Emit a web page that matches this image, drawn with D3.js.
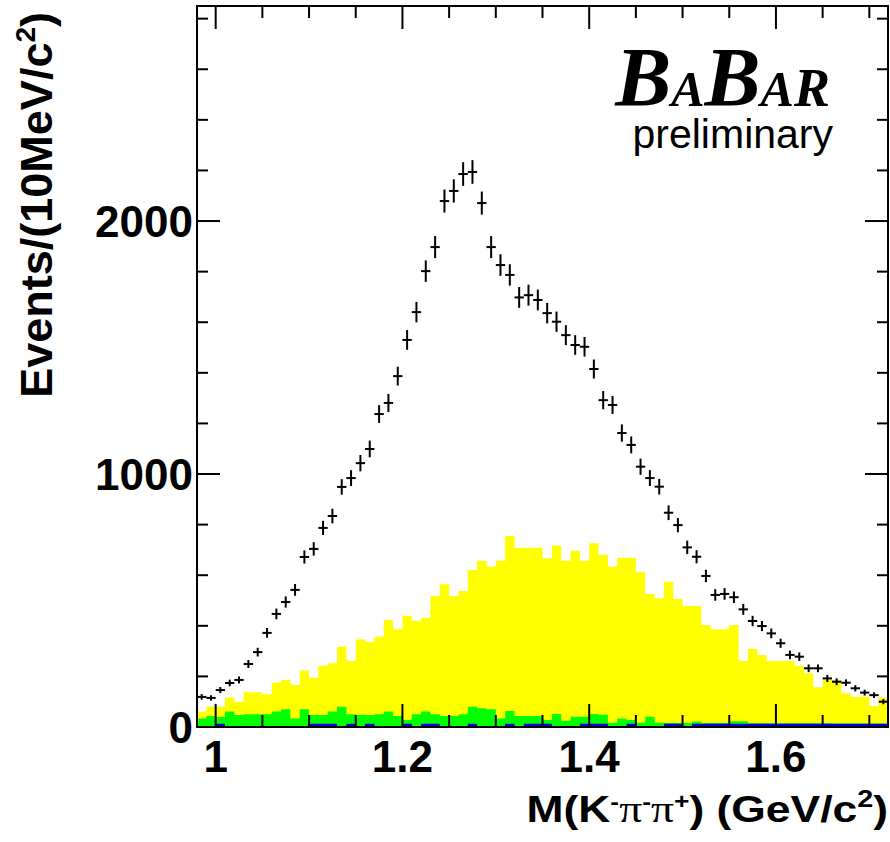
<!DOCTYPE html>
<html>
<head>
<meta charset="utf-8">
<title>BaBar K pi pi mass</title>
<script src="https://cdn.jsdelivr.net/npm/d3@7"></script>
<style>
  body { margin: 0; background: #fff; }
</style>
</head>
<body>
<script>
// binning: 10 MeV bins from 0.98 to 1.72 GeV
var binLow = 0.98, binWidth = 0.01;

// data points (events per bin)
var dataCounts = [119,115,146,174,186,249,296,372,447,494,
  542,672,704,787,834,949,984,1043,1099,1237,
  1281,1387,1530,1640,1802,1897,2079,2119,2186,2194,
  2071,1897,1826,1787,1698,1707,1688,1636,1602,1549,
  1510,1503,1415,1292,1273,1162,1115,1029,984,950,
  847,798,710,673,597,522,526,513,465,419,
  399,370,331,285,278,232,232,192,179,175,
  153,136,126,100];

// yellow background component
var yellowCounts = [60,80,80,117,100,137,137,129,175,186,
  166,223,195,242,252,317,261,347,337,357,
  423,386,440,420,432,518,564,518,538,621,
  657,634,657,755,709,709,709,667,717,657,
  697,657,726,680,634,669,669,614,526,509,
  574,506,478,478,403,386,386,403,261,308,
  285,261,261,261,242,212,157,186,186,133,
  120,120,83,116];

// green component
var greenCounts = [34,43,40,61,47,50,50,50,61,70,
  34,70,47,47,61,80,50,47,47,50,
  61,43,28,50,61,50,43,43,50,80,
  74,70,34,63,43,43,43,28,51,25,
  41,41,51,48,17,34,28,17,41,17,
  16,16,16,22,16,16,16,23,23,15,
  15,15,15,15,15,15,15,15,14,14,
  14,14,14,14];

// blue component
var blueCounts = [4,4,13,4,4,4,4,4,4,4,
  4,4,13,13,13,4,13,4,13,4,
  4,4,13,4,13,13,4,4,4,13,
  4,4,4,13,4,13,13,13,4,4,
  4,13,13,13,4,4,13,4,4,4,
  13,13,4,13,13,13,13,13,13,13,
  13,13,13,13,13,13,13,13,13,13,
  13,13,13,13];

var xTickLabels = ["1", "1.2", "1.4", "1.6"];
var xTickValues = [1.0, 1.2, 1.4, 1.6];
var yTickLabels = ["0", "1000", "2000"];
var yTickValues = [0, 1000, 2000];

var W = 890, H = 842;
var plotL = 197, plotR = 888, plotT = 6, plotB = 727;

var svg = d3.select("body").append("svg")
    .attr("width", W)
    .attr("height", H)
    .attr("font-family", "Liberation Sans, Arial, sans-serif");

var x = d3.scaleLinear().domain([0.98, 1.72]).range([plotL, plotR]);
var y = d3.scaleLinear().domain([0, 2850]).range([plotB, plotT]);

var nBins = dataCounts.length;
var edges = d3.range(nBins + 1).map(function(i) { return binLow + binWidth * i; });

function histPath(counts) {
    var p = counts.map(function(c, i) { return [edges[i], c]; });
    p.push([edges[nBins], counts[nBins - 1]]);
    return d3.area()
        .x(function(d) { return x(d[0]); })
        .y0(y(0))
        .y1(function(d) { return y(d[1]); })
        .curve(d3.curveStepAfter)(p);
}

svg.append("path").attr("d", histPath(yellowCounts)).attr("fill", "#ffff00");
svg.append("path").attr("d", histPath(greenCounts)).attr("fill", "#00ff00");
svg.append("path").attr("d", histPath(blueCounts)).attr("fill", "#0000dd");

// data points with error bars
var pts = svg.append("g")
    .attr("stroke", "#000")
    .attr("stroke-width", 2);

dataCounts.forEach(function(c, i) {
    var err = Math.sqrt(c);
    var xc = x(edges[i] + binWidth / 2);
    pts.append("line")
        .attr("x1", x(edges[i])).attr("x2", x(edges[i + 1]))
        .attr("y1", y(c)).attr("y2", y(c));
    pts.append("line")
        .attr("x1", xc).attr("x2", xc)
        .attr("y1", y(c - err)).attr("y2", y(c + err));
});

// frame
svg.append("rect")
    .attr("x", plotL).attr("y", plotT)
    .attr("width", plotR - plotL).attr("height", plotB - plotT)
    .attr("fill", "none").attr("stroke", "#000").attr("stroke-width", 2);

// ticks on all four sides
var ticks = svg.append("g").attr("stroke", "#000").attr("stroke-width", 2);
d3.range(0, 15).map(function(k) { return 1.0 + 0.05 * k; }).forEach(function(v, k) {
    var len = (k % 4 === 0) ? 23 : 12;
    ticks.append("line").attr("x1", x(v)).attr("x2", x(v))
        .attr("y1", plotB).attr("y2", plotB - len);
    ticks.append("line").attr("x1", x(v)).attr("x2", x(v))
        .attr("y1", plotT).attr("y2", plotT + len);
});
d3.range(0, 2850, 200).forEach(function(v) {
    var len = (v % 1000 === 0) ? 23 : 11;
    ticks.append("line").attr("x1", plotL).attr("x2", plotL + len)
        .attr("y1", y(v)).attr("y2", y(v));
    ticks.append("line").attr("x1", plotR).attr("x2", plotR - len)
        .attr("y1", y(v)).attr("y2", y(v));
});

// tick labels
svg.selectAll(".xl").data(xTickValues).enter().append("text")
    .attr("x", function(d) { return x(d); })
    .attr("y", 772)
    .attr("text-anchor", "middle")
    .attr("font-size", 44).attr("font-weight", "bold")
    .text(function(d, i) { return xTickLabels[i]; });

svg.selectAll(".yl").data(yTickValues).enter().append("text")
    .attr("x", 193)
    .attr("y", function(d) { return y(d) + 16; })
    .attr("text-anchor", "end")
    .attr("font-size", 44).attr("font-weight", "bold")
    .text(function(d, i) { return yTickLabels[i]; });

// x title
var xt = svg.append("text")
    .attr("transform", "translate(888,822) scale(1.2,1)")
    .attr("text-anchor", "end")
    .attr("font-size", 37).attr("font-weight", "bold");
xt.append("tspan").text("M(K");
xt.append("tspan").attr("dy", -13).attr("font-size", 22).text("-");
xt.append("tspan").attr("dy", 13).attr("font-family", "Liberation Serif").attr("font-weight", "normal").attr("font-size", 38).text("π");
xt.append("tspan").attr("dy", -13).attr("font-size", 22).text("-");
xt.append("tspan").attr("dy", 13).attr("font-family", "Liberation Serif").attr("font-weight", "normal").attr("font-size", 38).text("π");
xt.append("tspan").attr("dy", -13).attr("font-size", 22).text("+");
xt.append("tspan").attr("dy", 13).text(") (GeV/c");
xt.append("tspan").attr("dy", -15).attr("font-size", 24).text("2");
xt.append("tspan").attr("dy", 15).text(")");

// y title
var yt = svg.append("text")
    .attr("transform", "translate(52,12) rotate(-90)")
    .attr("text-anchor", "end")
    .attr("font-size", 45).attr("font-weight", "bold");
yt.append("tspan").text("Events/(10MeV/c");
yt.append("tspan").attr("dy", -17).attr("font-size", 28).text("2");
yt.append("tspan").attr("dy", 17).text(")");

// BaBar logo
var logo = svg.append("text")
    .attr("x", 830).attr("y", 106)
    .attr("text-anchor", "end")
    .attr("font-family", "Liberation Serif, DejaVu Serif, serif")
    .attr("font-style", "italic").attr("font-weight", "bold");
logo.append("tspan").attr("font-size", 84).text("B");
logo.append("tspan").attr("font-size", 50).text("A");
logo.append("tspan").attr("font-size", 84).text("B");
logo.append("tspan").attr("font-size", 50).text("A");
logo.append("tspan").attr("font-size", 54).text("R");

svg.append("text")
    .attr("x", 833).attr("y", 148)
    .attr("text-anchor", "end")
    .attr("font-size", 41)
    .text("preliminary");
</script>
</body>
</html>
